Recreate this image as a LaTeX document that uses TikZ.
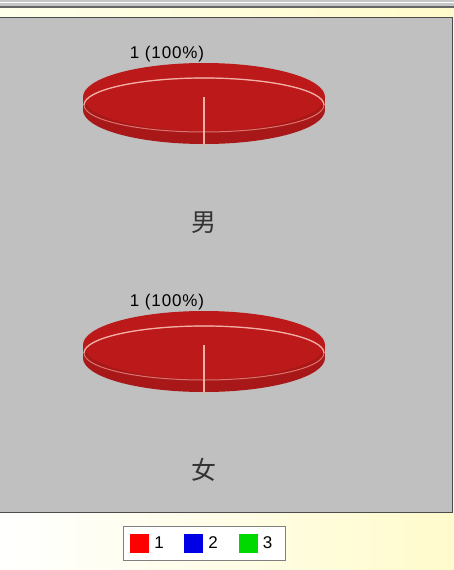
\documentclass[tikz,border=0pt]{standalone}
\usepackage{fontspec}
\setmainfont{Liberation Sans}
\newfontfamily\cjk{Noto Sans CJK SC}
\usetikzlibrary{positioning}
\definecolor{panelgray}{HTML}{C0C0C0}
\definecolor{pietop}{HTML}{BC1A1A}
\definecolor{pieside}{HTML}{A81818}
\definecolor{rimline}{HTML}{F2AFA6}
\definecolor{paleyellow}{HTML}{FFFBCC}
\tikzset{
	pct/.style={font=\addfontfeature{LetterSpace=5}\fontsize{17}{17}\selectfont,inner sep=0pt},
	sex/.style={font=\cjk\fontsize{25}{25}\selectfont,text=black!80,inner sep=0pt},
	keybox/.style={minimum size=19,inner sep=0pt},
	keytext/.style={font=\fontsize{17}{17}\selectfont,inner sep=0pt},
	rim/.style={draw=rimline,line width=1.2},
	backrim/.style={draw=rimline!60!pietop,line width=1}
}

\begin{document}
\begin{tikzpicture}[x=1pt,y=-1pt]
			\useasboundingbox (0,0) rectangle (454,570);
			\shade[left color=white,right color=paleyellow] (0,0) rectangle (454,570);
			% window strip
			\fill[gray!45] (0,0) rectangle (454,8);
			\draw[white,line width=1] (0,2) -- (454,2);
			\draw[gray!80!black,line width=2] (0,6.5) -- (454,6.5);
			\shade[left color=yellow!8,right color=paleyellow] (0,8) rectangle (454,16);
			% panel
			\fill[panelgray] (0,17) rectangle (452,512);
			\draw[gray!60!black,line width=1] (0,17) -- (452,17) -- (452,512) -- (0,512);
			
			% first pie
			\fill[pieside] (204,110) ellipse [x radius=121,y radius=34];
			\fill[pieside] (83,97) rectangle (325,110);
			\fill[pietop] (204,97) ellipse [x radius=121,y radius=34];
			\draw[backrim] (204,105) ellipse [x radius=120,y radius=27];
			\draw[rim] (84,105) arc [start angle=180,end angle=360,x radius=120,y radius=27];
			\draw[rim] (204,97) -- (204,146);
			\node[pct] (pct1) at (167,54) {1 (100\%)};
			\node[sex] (sex1) at (203.5,222.5) {男};
			
			% second pie
			\fill[pieside] (204,358) ellipse [x radius=121,y radius=34];
			\fill[pieside] (83,345) rectangle (325,358);
			\fill[pietop] (204,345) ellipse [x radius=121,y radius=34];
			\draw[backrim] (204,353) ellipse [x radius=120,y radius=27];
			\draw[rim] (84,353) arc [start angle=180,end angle=360,x radius=120,y radius=27];
			\draw[rim] (204,345) -- (204,394);
			\node[pct] (pct2) at (167,302) {1 (100\%)};
			\node[sex] (sex2) at (203.5,470) {女};
			
			% legend
			\node[draw=gray,fill=white,line width=1,minimum width=162,minimum height=34,inner sep=0pt] (key) at (204,543) {};
			\node[keybox,fill=red] (k1) at (139.5,543) {};
			\node[keytext,right=5pt of k1] (t1) {1};
			\node[keybox,fill=blue!90!black] (k2) at (193.5,543) {};
			\node[keytext,right=5pt of k2] (t2) {2};
			\node[keybox,fill=green!85!black] (k3) at (248,543) {};
			\node[keytext,right=5pt of k3] (t3) {3};
		\end{tikzpicture}
\end{document}
